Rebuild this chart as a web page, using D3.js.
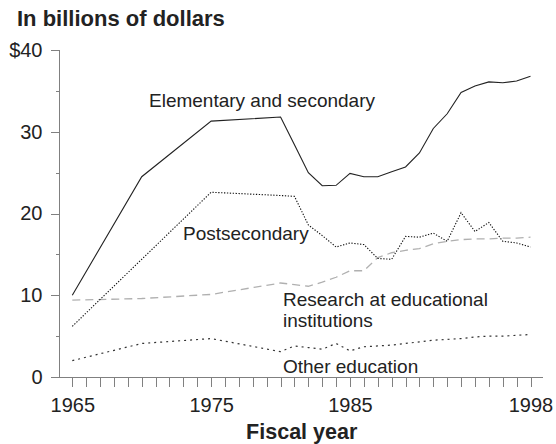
<!DOCTYPE html>
<meta charset="utf-8">
<style>
body { margin: 0; background: #fff; }
svg { display: block; font-family: "Liberation Sans", Arial, sans-serif; }
.axis path, .axis line { stroke: #808080; stroke-width: 1px; shape-rendering: crispEdges; }
.axis text { font-size: 20px; fill: #222; }
.series { fill: none; }
.label { font-size: 19px; fill: #222; }
</style>
<body>
<svg width="556" height="444"></svg>
<script src="https://cdn.jsdelivr.net/npm/d3@7"></script>
<script>
var years = [1965, 1970, 1975, 1980, 1981, 1982, 1983, 1984, 1985, 1986, 1987,
             1988, 1989, 1990, 1991, 1992, 1993, 1994, 1995, 1996, 1997, 1998];

var elementary = [10.0, 24.5, 31.3, 31.8, 28.4, 25.0, 23.4, 23.45, 24.9, 24.5, 24.5,
                  25.1, 25.7, 27.4, 30.4, 32.2, 34.8, 35.6, 36.1, 36.0, 36.2, 36.8];
var postsecondary = [6.2, 14.4, 22.6, 22.2, 22.1, 18.6, 17.3, 15.9, 16.4, 16.2, 14.5,
                     14.4, 17.2, 17.1, 17.6, 16.6, 20.1, 17.8, 18.9, 16.6, 16.4, 15.9];
var research = [9.4, 9.6, 10.1, 11.5, 11.3, 11.1, 11.6, 12.2, 13.0, 13.0, 14.6,
                15.2, 15.5, 15.7, 16.3, 16.6, 16.8, 16.9, 16.9, 17.0, 17.0, 17.1];
var other = [2.0, 4.1, 4.7, 3.1, 3.8, 3.6, 3.4, 4.1, 3.2, 3.7, 3.8,
             3.9, 4.1, 4.3, 4.5, 4.6, 4.7, 4.9, 5.0, 5.0, 5.1, 5.2];

var yMajor = [0, 10, 20, 30, 40];
var yMinor = [5, 15, 25, 35];
var xLabels = [1965, 1975, 1985, 1998];

var svg = d3.select("svg");

var x = d3.scaleLinear().domain([1965, 1998]).range([72.3, 530.5]);
var y = d3.scaleLinear().domain([0, 40]).range([377, 50]);

// axis lines
svg.append("line")
    .attr("x1", 59.5).attr("x2", 59.5).attr("y1", 50).attr("y2", y(0))
    .attr("stroke", "#808080");
svg.append("line")
    .attr("x1", 59.5).attr("x2", 543).attr("y1", y(0) + 0.5).attr("y2", y(0) + 0.5)
    .attr("stroke", "#808080");

var yAxis = svg.append("g")
    .attr("class", "axis")
    .attr("transform", "translate(59.5,0)")
    .call(d3.axisLeft(y).tickValues(yMajor).tickSize(9).tickPadding(8)
      .tickFormat(function(d) { return d == 40 ? "$40" : d; }));
yAxis.select(".domain").remove();

var yMin = svg.append("g")
    .attr("class", "axis")
    .attr("transform", "translate(59.5,0)")
    .call(d3.axisLeft(y).tickValues(yMinor).tickSize(4).tickFormat(""));
yMin.select(".domain").remove();

var allYears = d3.range(1965, 1999);
var xAxis = svg.append("g")
    .attr("class", "axis")
    .attr("transform", "translate(0," + (y(0) + 0.5) + ")")
    .call(d3.axisBottom(x).tickValues(allYears).tickSize(9).tickPadding(11)
      .tickFormat(function(d) { return xLabels.indexOf(d) >= 0 ? d : ""; }));
xAxis.select(".domain").remove();

var line = d3.line()
    .x(function(d, i) { return x(years[i]); })
    .y(function(d) { return y(d); });

svg.append("path").attr("class", "series")
    .attr("d", line(research))
    .attr("stroke", "#b0b0b0").attr("stroke-width", 1.3)
    .attr("stroke-dasharray", "8,5");

svg.append("path").attr("class", "series")
    .attr("d", line(other))
    .attr("stroke", "#333").attr("stroke-width", 1.2)
    .attr("stroke-dasharray", "2,4");

svg.append("path").attr("class", "series")
    .attr("d", line(postsecondary))
    .attr("stroke", "#111").attr("stroke-width", 1.1)
    .attr("stroke-dasharray", "1.3,1.6");

svg.append("path").attr("class", "series")
    .attr("d", line(elementary))
    .attr("stroke", "#222").attr("stroke-width", 1.1);

// series labels
svg.append("text").attr("class", "label").attr("x", 149).attr("y", 107)
    .text("Elementary and secondary");
svg.append("text").attr("class", "label").attr("x", 183).attr("y", 240)
    .text("Postsecondary");
svg.append("text").attr("class", "label").attr("x", 283).attr("y", 306)
    .text("Research at educational");
svg.append("text").attr("class", "label").attr("x", 283).attr("y", 327)
    .text("institutions");
svg.append("text").attr("class", "label").attr("x", 283).attr("y", 373)
    .text("Other education");

// titles
svg.append("text")
    .attr("x", 17).attr("y", 26)
    .style("font-size", "22px").style("font-weight", "bold").attr("fill", "#222")
    .text("In billions of dollars");
svg.append("text")
    .attr("x", 301.7).attr("y", 439)
    .attr("text-anchor", "middle")
    .style("font-size", "21.5px").style("font-weight", "bold").attr("fill", "#222")
    .text("Fiscal year");
</script>
</body>
